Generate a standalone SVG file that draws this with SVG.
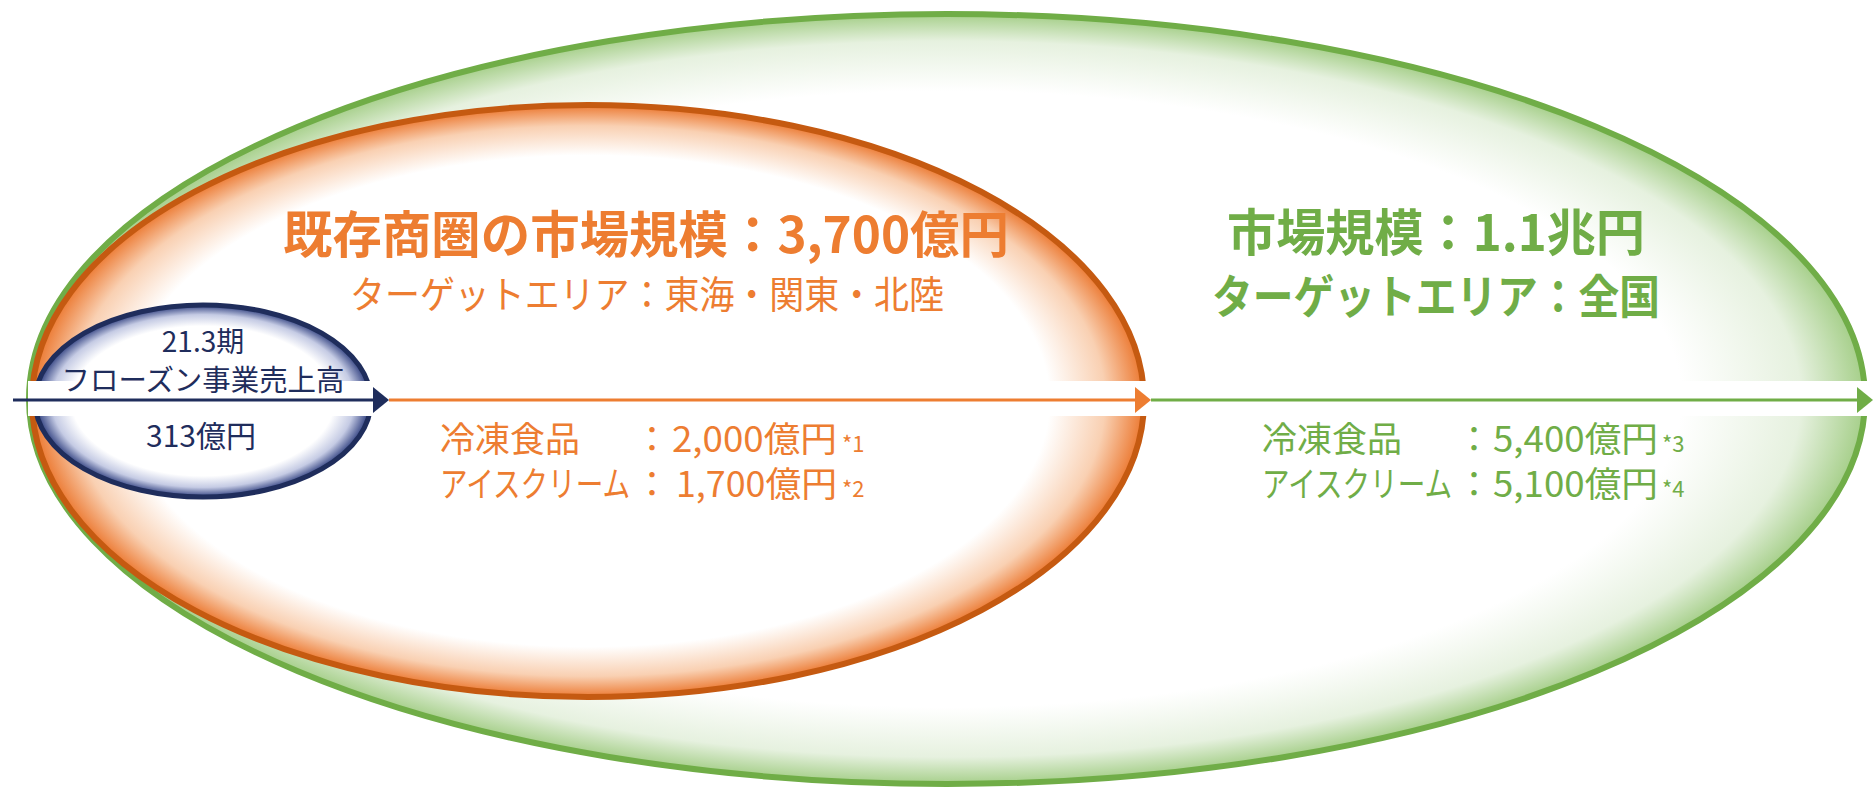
<svg xmlns="http://www.w3.org/2000/svg" width="1873" height="789" viewBox="0 0 1873 789">
<style>
text{font-family:"Noto Sans CJK JP","Noto Sans",sans-serif;}
.or{fill:#ED7D31;}
.gr{fill:#70AD47;}
.nv{fill:#1F2D5C;}
.b{font-weight:700;}
</style>
<defs>
<radialGradient id="gGreen" cx="0.5" cy="0.5" r="0.5">
<stop offset="0" stop-color="#FFFFFF"/>
<stop offset="0.8" stop-color="#FFFFFF"/>
<stop offset="0.93" stop-color="#E6F1DF"/>
<stop offset="1" stop-color="#A6CF8A"/>
</radialGradient>
<radialGradient id="gOrange" cx="0.5" cy="0.5" r="0.5">
<stop offset="0" stop-color="#FFFFFF"/>
<stop offset="0.83" stop-color="#FFFFFF"/>
<stop offset="0.93" stop-color="#F9D0B2"/>
<stop offset="1" stop-color="#EC7A33"/>
</radialGradient>
<radialGradient id="gNavy" cx="0.5" cy="0.5" r="0.5">
<stop offset="0" stop-color="#FFFFFF"/>
<stop offset="0.78" stop-color="#FFFFFF"/>
<stop offset="0.9" stop-color="#C5CBE4"/>
<stop offset="1" stop-color="#2F3F7F"/>
</radialGradient>
<marker id="aNavy" viewBox="0 0 16 26" markerWidth="16" markerHeight="26" refX="12" refY="13" orient="auto" markerUnits="userSpaceOnUse"><path d="M0,0 L16,13 L0,26 z" fill="#1F2D5C"/></marker>
<marker id="aOrange" viewBox="0 0 16 26" markerWidth="16" markerHeight="26" refX="12" refY="13" orient="auto" markerUnits="userSpaceOnUse"><path d="M0,0 L16,13 L0,26 z" fill="#ED7D31"/></marker>
<marker id="aGreen" viewBox="0 0 16 26" markerWidth="16" markerHeight="26" refX="12" refY="13" orient="auto" markerUnits="userSpaceOnUse"><path d="M0,0 L16,13 L0,26 z" fill="#70AD47"/></marker>
</defs>
<rect width="1873" height="789" fill="#FFFFFF"/>
<g id="node-national">
<ellipse cx="947" cy="399" rx="918" ry="385" fill="url(#gGreen)" stroke="#70AD47" stroke-width="6"/>
</g>
<g id="node-existing">
<ellipse cx="588" cy="401" rx="556" ry="296" fill="url(#gOrange)" stroke="#C55A11" stroke-width="6"/>
</g>
<g id="node-sales">
<ellipse cx="203" cy="401" rx="168" ry="96" fill="url(#gNavy)" stroke="#1F2D5C" stroke-width="5"/>
</g>
<g id="connectors">
<rect x="28" y="381" width="1845" height="35" fill="#FFFFFF"/>
<line x1="13" y1="400" x2="385" y2="400" stroke="#1F2D5C" stroke-width="3" marker-end="url(#aNavy)"/>
<line x1="389" y1="400" x2="1147" y2="400" stroke="#ED7D31" stroke-width="3" marker-end="url(#aOrange)"/>
<line x1="1151" y1="400" x2="1869" y2="400" stroke="#70AD47" stroke-width="3" marker-end="url(#aGreen)"/>
</g>
<g id="label-sales">
<text class="nv" x="203" y="352" font-size="28" text-anchor="middle">21.3期</text>
<text class="nv" x="203" y="391" font-size="29" text-anchor="middle" textLength="283" lengthAdjust="spacingAndGlyphs">フローズン事業売上高</text>
<text class="nv" x="201" y="447" font-size="30" text-anchor="middle">313億円</text>
</g>
<g id="label-existing">
<text class="or b" x="646" y="253" font-size="50" text-anchor="middle" textLength="726" lengthAdjust="spacingAndGlyphs">既存商圏の市場規模：3,700億円</text>
<text class="or" x="647" y="308" font-size="38" text-anchor="middle" textLength="594" lengthAdjust="spacingAndGlyphs">ターゲットエリア：東海・関東・北陸</text>
<text class="or" x="440" y="452" font-size="35">冷凍食品</text>
<text class="or" x="652" y="452" font-size="35" text-anchor="middle">：</text>
<text class="or" x="672" y="452" font-size="35" textLength="165" lengthAdjust="spacingAndGlyphs">2,000億円</text>
<text class="or" x="842" y="452" font-size="22">*1</text>
<text class="or" x="440" y="497" font-size="35" textLength="190" lengthAdjust="spacingAndGlyphs">アイスクリーム</text>
<text class="or" x="652" y="497" font-size="35" text-anchor="middle">：</text>
<text class="or" x="676" y="497" font-size="35" textLength="161" lengthAdjust="spacingAndGlyphs">1,700億円</text>
<text class="or" x="842" y="497" font-size="22">*2</text>
</g>
<g id="label-national">
<text class="gr b" x="1436" y="251" font-size="50" text-anchor="middle" textLength="418" lengthAdjust="spacingAndGlyphs">市場規模：1.1兆円</text>
<text class="gr b" x="1436" y="313" font-size="46" text-anchor="middle" textLength="448" lengthAdjust="spacingAndGlyphs">ターゲットエリア：全国</text>
<text class="gr" x="1262" y="452" font-size="35">冷凍食品</text>
<text class="gr" x="1474" y="452" font-size="35" text-anchor="middle">：</text>
<text class="gr" x="1493" y="452" font-size="35" textLength="165" lengthAdjust="spacingAndGlyphs">5,400億円</text>
<text class="gr" x="1662" y="452" font-size="22">*3</text>
<text class="gr" x="1262" y="497" font-size="35" textLength="190" lengthAdjust="spacingAndGlyphs">アイスクリーム</text>
<text class="gr" x="1474" y="497" font-size="35" text-anchor="middle">：</text>
<text class="gr" x="1493" y="497" font-size="35" textLength="165" lengthAdjust="spacingAndGlyphs">5,100億円</text>
<text class="gr" x="1662" y="497" font-size="22">*4</text>
</g>
</svg>
